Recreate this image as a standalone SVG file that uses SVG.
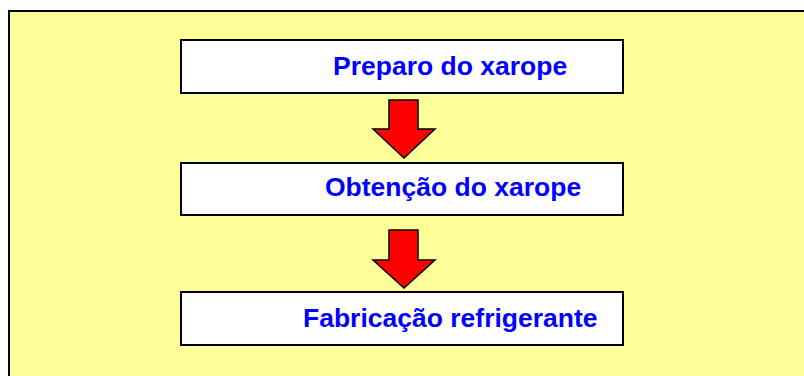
<svg xmlns="http://www.w3.org/2000/svg" width="804" height="376" viewBox="0 0 804 376">
<style>
.box{fill:#FFFFFF;stroke:#000;stroke-width:2}
.arrow{fill:#FF0000;stroke:#000;stroke-width:1.5;stroke-linejoin:miter}
.lbl{font-family:"Liberation Sans",Arial,sans-serif;font-weight:bold;font-size:26.5px;fill:#0000FF}
</style>
<rect x="0" y="0" width="804" height="376" fill="#FFFFFF"/>
<rect x="9" y="11" width="810" height="380" fill="#FFFF99" stroke="#000" stroke-width="2"/>
<g id="connectors">
<polygon class="arrow" points="389,100 418,100 418,129 435,129 404,158 373,129 389,129"/>
<polygon class="arrow" points="389,230 418,230 418,260 435,260 404,288 373,260 389,260"/>
</g>
<g id="node1">
<rect class="box" x="181" y="40" width="442" height="53"/>
<text class="lbl" x="333" y="75">Preparo do xarope</text>
</g>
<g id="node2">
<rect class="box" x="181" y="163" width="442" height="52"/>
<text class="lbl" x="325" y="196">Obtenção do xarope</text>
</g>
<g id="node3">
<rect class="box" x="181" y="292" width="442" height="53"/>
<text class="lbl" x="303" y="327">Fabricação refrigerante</text>
</g>
</svg>
